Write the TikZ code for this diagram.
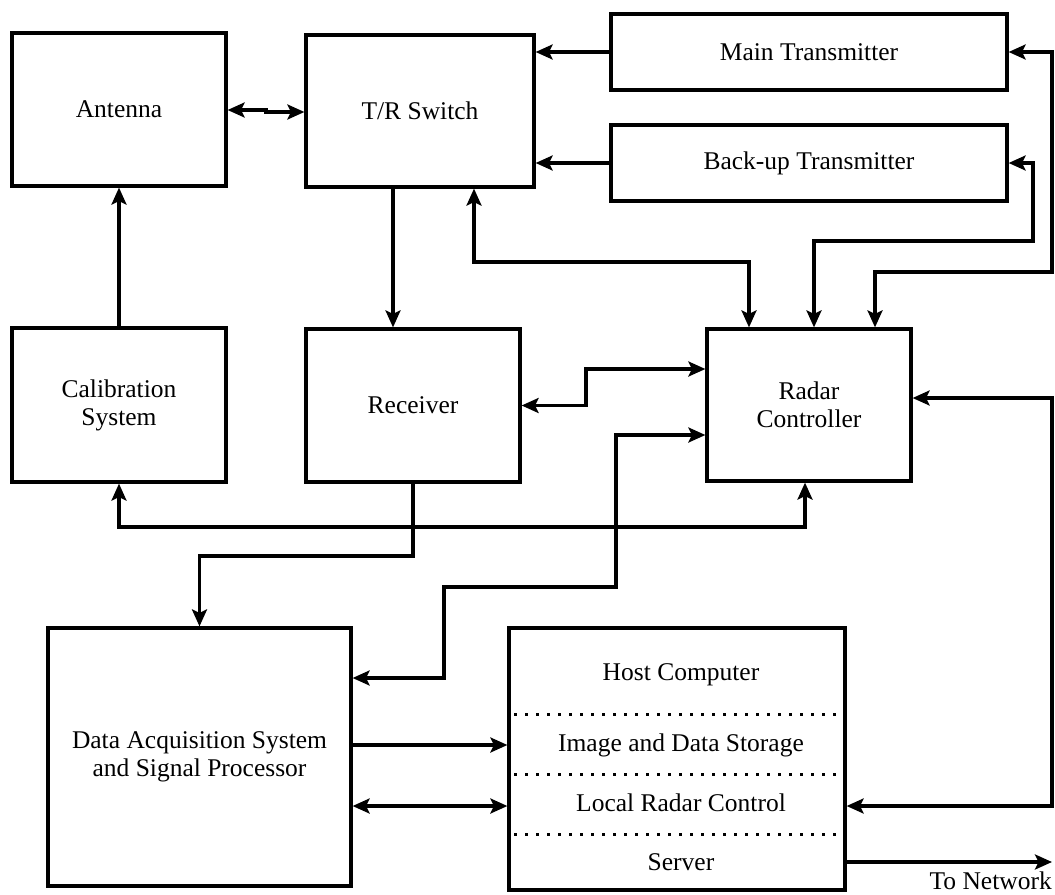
\documentclass[tikz,border=0pt]{standalone}
\usepackage{fontspec}
\setmainfont{Liberation Serif}
\usetikzlibrary{arrows.meta}
\begin{document}
\begin{tikzpicture}[x=1bp,y=-1bp,
  font=\fontsize{25.5bp}{28bp}\selectfont,
  block/.style={draw, line width=3.2bp, inner sep=0pt, align=center},
  tip/.tip={Stealth[length=17bp,width=15bp,inset=3.5bp]},
  link/.style={line width=3.2bp, -tip},
  biway/.style={line width=3.2bp, tip-tip},
  divider/.style={line width=3bp, dash pattern=on 3bp off 8bp},
]
\useasboundingbox (0,0) rectangle (1055,895);

% blocks
\node[block, minimum width=214bp, minimum height=153bp] (ant)  at (119,109.5) {Antenna};
\node[block, minimum width=228bp, minimum height=152bp] (tr)   at (420,111)   {T/R Switch};
\node[block, minimum width=396bp, minimum height=76bp]  (mt)   at (809,52)    {Main Transmitter};
\node[block, minimum width=396bp, minimum height=76bp]  (bt)   at (809,163)   {Back-up Transmitter};
\node[block, minimum width=214bp, minimum height=154bp] (cal)  at (119,405)   {Calibration\\System};
\node[block, minimum width=214bp, minimum height=153bp] (rx)   at (413,405.5) {Receiver};
\node[block, minimum width=204bp, minimum height=152bp] (rc)   at (809,405)   {Radar\\Controller};
\node[block, minimum width=303bp, minimum height=258bp] (das)  at (199.5,757) {Data Acquisition System\\and Signal Processor};
\node[block, minimum width=336bp, minimum height=262bp] (host) at (677,759)   {};

% host computer sections
\node (hostA) at (681,675) {Host Computer};
\node (hostB) at (681,745) {Image and Data Storage};
\node (hostC) at (681,803) {Local Radar Control};
\node (hostD) at (681,862) {Server};
\draw[divider] (514,714) -- (842,714);
\draw[divider] (514,774) -- (842,774);
\draw[divider] (514,834) -- (842,834);

% bend points of the connectors
\coordinate (kU1) at (266,110);
\coordinate (kU2) at (266,112);
\coordinate (kTR) at (393,0);
\coordinate (kA) at (474,262);
\coordinate (kB) at (749,262);
\coordinate (kC) at (814,241);
\coordinate (kD) at (1033,241);
\coordinate (kE) at (875,272);
\coordinate (kF) at (1052,272);
\coordinate (kH) at (586,369);
\coordinate (kI) at (444,678);
\coordinate (kJ) at (444,587);
\coordinate (kK) at (616,587);
\coordinate (kL) at (616,435);
\coordinate (kM) at (413,556);
\coordinate (kN) at (199.5,556);
\coordinate (kO) at (805,527);
\coordinate (kP) at (119,527);
\coordinate (kQ) at (1052,398);
\coordinate (kR) at (1052,806);
\coordinate (kS) at (0,745);
\coordinate (net) at (1052,862);

% connectors
\draw[biway] (ant.east |- kU1) -- (kU1) -- (kU2) -- (tr.west |- kU2);
\draw[link] (mt.west) -- (tr.east |- mt.west);
\draw[link] (bt.west) -- (tr.east |- bt.west);
\draw[link] (tr.south -| kTR) -- (rx.north -| kTR);
\draw[link] (cal.north) -- (ant.south);
\draw[biway] (tr.south -| kA) -- (kA) -- (kB) -- (rc.north -| kB);
\draw[biway] (bt.east) -- (bt.east -| kD) -- (kD) -- (kC) -- (rc.north -| kC);
\draw[biway] (mt.east) -- (mt.east -| kF) -- (kF) -- (kE) -- (rc.north -| kE);
\draw[biway] (rx.east) -| (kH) -- (rc.west |- kH);
\draw[biway] (das.east |- kI) -- (kI) -- (kJ) -- (kK) -- (kL) -- (rc.west |- kL);
\draw[link] (rx.south) -- (kM) -- (kN) -- (das.north);
\draw[biway] (rc.south -| kO) -- (kO) -- (kP) -- (cal.south);
\draw[biway] (rc.east |- kQ) -- (kQ) -- (kR) -- (host.east |- kR);
\draw[link] (das.east |- kS) -- (host.west |- kS);
\draw[biway] (das.east |- kR) -- (host.west |- kR);
\draw[link] (host.east |- net) -- (net);
\node[anchor=base east, inner sep=0pt] (netlbl) at (1052,889) {To Network};
\end{tikzpicture}
\end{document}
